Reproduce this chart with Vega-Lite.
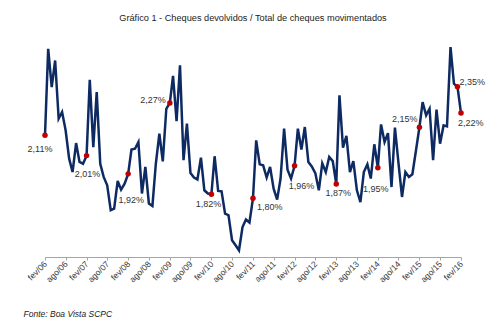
{
  "$schema": "https://vega.github.io/schema/vega-lite/v6.json",
  "width": 416,
  "height": 221,
  "autosize": "none",
  "padding": {"left": 45, "top": 36, "right": 39, "bottom": 72},
  "background": "white",
  "title": {"text": "Gráfico 1 - Cheques devolvidos  / Total de cheques movimentados", "fontSize": 9.2, "font": "Liberation Sans", "fontWeight": "normal", "color": "#222222", "anchor": "middle", "baseline": "bottom", "offset": 4, "frame": "group"},
  "data": {"values": [
    {"d": "2006-02-01", "v": 2.11, "label": "2,11%"},
    {"d": "2006-03-01", "v": 2.537},
    {"d": "2006-04-01", "v": 2.348},
    {"d": "2006-05-01", "v": 2.479},
    {"d": "2006-06-01", "v": 2.192},
    {"d": "2006-07-01", "v": 2.225},
    {"d": "2006-08-01", "v": 2.135},
    {"d": "2006-09-01", "v": 1.995},
    {"d": "2006-10-01", "v": 1.929},
    {"d": "2006-11-01", "v": 2.072},
    {"d": "2006-12-01", "v": 1.979},
    {"d": "2007-01-01", "v": 1.970},
    {"d": "2007-02-01", "v": 2.01, "label": "2,01%"},
    {"d": "2007-03-01", "v": 2.384},
    {"d": "2007-04-01", "v": 2.052},
    {"d": "2007-05-01", "v": 2.323},
    {"d": "2007-06-01", "v": 1.970},
    {"d": "2007-07-01", "v": 1.905},
    {"d": "2007-08-01", "v": 1.864},
    {"d": "2007-09-01", "v": 1.741},
    {"d": "2007-10-01", "v": 1.749},
    {"d": "2007-11-01", "v": 1.885},
    {"d": "2007-12-01", "v": 1.842},
    {"d": "2008-01-01", "v": 1.872},
    {"d": "2008-02-01", "v": 1.92, "label": "1,92%"},
    {"d": "2008-03-01", "v": 2.040},
    {"d": "2008-04-01", "v": 2.044},
    {"d": "2008-05-01", "v": 2.077},
    {"d": "2008-06-01", "v": 1.823},
    {"d": "2008-07-01", "v": 1.954},
    {"d": "2008-08-01", "v": 1.774},
    {"d": "2008-09-01", "v": 1.762},
    {"d": "2008-10-01", "v": 1.970},
    {"d": "2008-11-01", "v": 2.118},
    {"d": "2008-12-01", "v": 1.982},
    {"d": "2009-01-01", "v": 2.241},
    {"d": "2009-02-01", "v": 2.27, "label": "2,27%"},
    {"d": "2009-03-01", "v": 2.403},
    {"d": "2009-04-01", "v": 2.180},
    {"d": "2009-05-01", "v": 2.455},
    {"d": "2009-06-01", "v": 1.988},
    {"d": "2009-07-01", "v": 2.168},
    {"d": "2009-08-01", "v": 1.924},
    {"d": "2009-09-01", "v": 1.902},
    {"d": "2009-10-01", "v": 1.892},
    {"d": "2009-11-01", "v": 2.000},
    {"d": "2009-12-01", "v": 1.839},
    {"d": "2010-01-01", "v": 1.823},
    {"d": "2010-02-01", "v": 1.82, "label": "1,82%"},
    {"d": "2010-03-01", "v": 2.007},
    {"d": "2010-04-01", "v": 1.836},
    {"d": "2010-05-01", "v": 1.834},
    {"d": "2010-06-01", "v": 1.724},
    {"d": "2010-07-01", "v": 1.716},
    {"d": "2010-08-01", "v": 1.593},
    {"d": "2010-09-01", "v": 1.568},
    {"d": "2010-10-01", "v": 1.543},
    {"d": "2010-11-01", "v": 1.658},
    {"d": "2010-12-01", "v": 1.695},
    {"d": "2011-01-01", "v": 1.680},
    {"d": "2011-02-01", "v": 1.80, "label": "1,80%"},
    {"d": "2011-03-01", "v": 2.085},
    {"d": "2011-04-01", "v": 1.967},
    {"d": "2011-05-01", "v": 1.962},
    {"d": "2011-06-01", "v": 1.902},
    {"d": "2011-07-01", "v": 1.954},
    {"d": "2011-08-01", "v": 1.847},
    {"d": "2011-09-01", "v": 1.793},
    {"d": "2011-10-01", "v": 1.897},
    {"d": "2011-11-01", "v": 2.143},
    {"d": "2011-12-01", "v": 1.941},
    {"d": "2012-01-01", "v": 1.897},
    {"d": "2012-02-01", "v": 1.96, "label": "1,96%"},
    {"d": "2012-03-01", "v": 2.143},
    {"d": "2012-04-01", "v": 2.040},
    {"d": "2012-05-01", "v": 2.151},
    {"d": "2012-06-01", "v": 1.979},
    {"d": "2012-07-01", "v": 1.957},
    {"d": "2012-08-01", "v": 1.924},
    {"d": "2012-09-01", "v": 1.839},
    {"d": "2012-10-01", "v": 1.972},
    {"d": "2012-11-01", "v": 1.929},
    {"d": "2012-12-01", "v": 2.003},
    {"d": "2013-01-01", "v": 1.983},
    {"d": "2013-02-01", "v": 1.87, "label": "1,87%"},
    {"d": "2013-03-01", "v": 2.307},
    {"d": "2013-04-01", "v": 2.049},
    {"d": "2013-05-01", "v": 2.108},
    {"d": "2013-06-01", "v": 1.929},
    {"d": "2013-07-01", "v": 1.983},
    {"d": "2013-08-01", "v": 1.839},
    {"d": "2013-09-01", "v": 1.781},
    {"d": "2013-10-01", "v": 1.929},
    {"d": "2013-11-01", "v": 1.967},
    {"d": "2013-12-01", "v": 1.897},
    {"d": "2014-01-01", "v": 2.066},
    {"d": "2014-02-01", "v": 1.95, "label": "1,95%"},
    {"d": "2014-03-01", "v": 2.164},
    {"d": "2014-04-01", "v": 2.077},
    {"d": "2014-05-01", "v": 2.121},
    {"d": "2014-06-01", "v": 1.855},
    {"d": "2014-07-01", "v": 2.148},
    {"d": "2014-08-01", "v": 1.974},
    {"d": "2014-09-01", "v": 1.806},
    {"d": "2014-10-01", "v": 1.929},
    {"d": "2014-11-01", "v": 1.905},
    {"d": "2014-12-01", "v": 1.918},
    {"d": "2015-01-01", "v": 2.033},
    {"d": "2015-02-01", "v": 2.15, "label": "2,15%"},
    {"d": "2015-03-01", "v": 2.274},
    {"d": "2015-04-01", "v": 2.209},
    {"d": "2015-05-01", "v": 2.241},
    {"d": "2015-06-01", "v": 1.987},
    {"d": "2015-07-01", "v": 2.237},
    {"d": "2015-08-01", "v": 2.069},
    {"d": "2015-09-01", "v": 2.159},
    {"d": "2015-10-01", "v": 2.154},
    {"d": "2015-11-01", "v": 2.545},
    {"d": "2015-12-01", "v": 2.365},
    {"d": "2016-01-01", "v": 2.35, "label": "2,35%"},
    {"d": "2016-02-01", "v": 2.22, "label": "2,22%"}
  ]},
  "encoding": {
    "x": {
      "field": "d", "type": "temporal",
      "scale": {"type": "utc", "domain": [{"year": 2006, "month": 2, "date": 1, "utc": true}, {"year": 2016, "month": 2, "date": 1, "utc": true}]},
      "axis": {
        "values": [
          {"year": 2006, "month": 2, "date": 1, "utc": true}, {"year": 2006, "month": 8, "date": 1, "utc": true},
          {"year": 2007, "month": 2, "date": 1, "utc": true}, {"year": 2007, "month": 8, "date": 1, "utc": true},
          {"year": 2008, "month": 2, "date": 1, "utc": true}, {"year": 2008, "month": 8, "date": 1, "utc": true},
          {"year": 2009, "month": 2, "date": 1, "utc": true}, {"year": 2009, "month": 8, "date": 1, "utc": true},
          {"year": 2010, "month": 2, "date": 1, "utc": true}, {"year": 2010, "month": 8, "date": 1, "utc": true},
          {"year": 2011, "month": 2, "date": 1, "utc": true}, {"year": 2011, "month": 8, "date": 1, "utc": true},
          {"year": 2012, "month": 2, "date": 1, "utc": true}, {"year": 2012, "month": 8, "date": 1, "utc": true},
          {"year": 2013, "month": 2, "date": 1, "utc": true}, {"year": 2013, "month": 8, "date": 1, "utc": true},
          {"year": 2014, "month": 2, "date": 1, "utc": true}, {"year": 2014, "month": 8, "date": 1, "utc": true},
          {"year": 2015, "month": 2, "date": 1, "utc": true}, {"year": 2015, "month": 8, "date": 1, "utc": true},
          {"year": 2016, "month": 2, "date": 1, "utc": true}
        ],
        "labelExpr": "(utcmonth(datum.value) == 1 ? 'fev/' : 'ago/') + utcFormat(datum.value, '%y')",
        "domainColor": "#a6a6a6",
        "tickColor": "#a6a6a6",
        "tickSize": 3,
        "labelAngle": -45,
        "labelAlign": "right",
        "labelBaseline": "middle",
        "labelFontSize": 8.5,
        "labelFont": "Liberation Sans",
        "labelColor": "#3a3a3a",
        "labelPadding": 2,
        "labelOverlap": false,
        "labelFlush": false,
        "grid": false,
        "title": "Fonte: Boa Vista SCPC",
        "titleFont": "Liberation Sans",
        "titleFontSize": 8.5,
        "titleFontStyle": "italic",
        "titleFontWeight": "normal",
        "titleColor": "#222222",
        "titleX": -22,
        "titleY": 56,
        "titleAlign": "left",
        "titleBaseline": "middle",
        "titleAnchor": "start"
      }
    },
    "y": {"field": "v", "type": "quantitative", "scale": {"domain": [1.51, 2.6], "zero": false, "nice": false}, "axis": null}
  },
  "layer": [
    {"mark": {"type": "line", "color": "#0e2a62", "strokeWidth": 2.5}},
    {"transform": [{"filter": "isValid(datum.label)"}], "mark": {"type": "point", "filled": true, "color": "#c00000", "size": 30, "opacity": 1}},
    {"transform": [{"filter": "datum.label == '2,11%'"}], "mark": {"type": "text", "dx": -5, "dy": 14, "fontSize": 9, "font": "Liberation Sans", "color": "#333333"}, "encoding": {"text": {"field": "label"}}},
    {"transform": [{"filter": "datum.label == '2,01%'"}], "mark": {"type": "text", "dx": 1, "dy": 18, "fontSize": 9, "font": "Liberation Sans", "color": "#333333"}, "encoding": {"text": {"field": "label"}}},
    {"transform": [{"filter": "datum.label == '1,92%'"}], "mark": {"type": "text", "dx": 3, "dy": 26, "fontSize": 9, "font": "Liberation Sans", "color": "#333333"}, "encoding": {"text": {"field": "label"}}},
    {"transform": [{"filter": "datum.label == '2,27%'"}], "mark": {"type": "text", "align": "right", "dx": -4, "dy": -3, "fontSize": 9, "font": "Liberation Sans", "color": "#333333"}, "encoding": {"text": {"field": "label"}}},
    {"transform": [{"filter": "datum.label == '1,82%'"}], "mark": {"type": "text", "dx": -3, "dy": 10, "fontSize": 9, "font": "Liberation Sans", "color": "#333333"}, "encoding": {"text": {"field": "label"}}},
    {"transform": [{"filter": "datum.label == '1,80%'"}], "mark": {"type": "text", "align": "left", "dx": 4, "dy": 9, "fontSize": 9, "font": "Liberation Sans", "color": "#333333"}, "encoding": {"text": {"field": "label"}}},
    {"transform": [{"filter": "datum.label == '1,96%'"}], "mark": {"type": "text", "dx": 7, "dy": 20, "fontSize": 9, "font": "Liberation Sans", "color": "#333333"}, "encoding": {"text": {"field": "label"}}},
    {"transform": [{"filter": "datum.label == '1,87%'"}], "mark": {"type": "text", "dx": 2, "dy": 9, "fontSize": 9, "font": "Liberation Sans", "color": "#333333"}, "encoding": {"text": {"field": "label"}}},
    {"transform": [{"filter": "datum.label == '1,95%'"}], "mark": {"type": "text", "dx": -2, "dy": 21, "fontSize": 9, "font": "Liberation Sans", "color": "#333333"}, "encoding": {"text": {"field": "label"}}},
    {"transform": [{"filter": "datum.label == '2,15%'"}], "mark": {"type": "text", "align": "right", "dx": -2, "dy": -8, "fontSize": 9, "font": "Liberation Sans", "color": "#333333"}, "encoding": {"text": {"field": "label"}}},
    {"transform": [{"filter": "datum.label == '2,35%'"}], "mark": {"type": "text", "align": "left", "dx": 2, "dy": -5, "fontSize": 9, "font": "Liberation Sans", "color": "#333333"}, "encoding": {"text": {"field": "label"}}},
    {"transform": [{"filter": "datum.label == '2,22%'"}], "mark": {"type": "text", "align": "left", "dx": -3, "dy": 10, "fontSize": 9, "font": "Liberation Sans", "color": "#333333"}, "encoding": {"text": {"field": "label"}}}
  ],
  "config": {"view": {"stroke": null}}
}
